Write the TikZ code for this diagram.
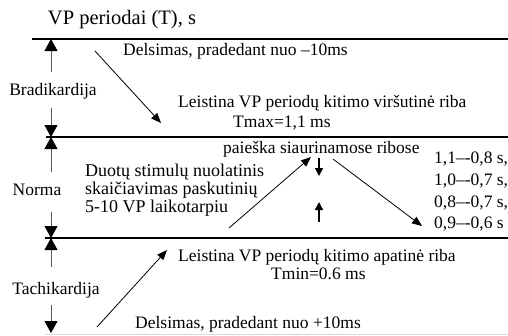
\documentclass[tikz,border=0pt]{standalone}
\usepackage{fontspec}
\setmainfont{Liberation Serif}
\usetikzlibrary{arrows.meta,positioning}

\begin{document}
\begin{tikzpicture}[x = 1pt, y = -1pt,
		every node/.style = {inner sep = 0pt, font = \fontsize{17.5}{20}\selectfont},
		riba/.style = {line width = 1.6pt},
		zona/.style = {draw = black!65, line width = 0.8pt, -{Triangle[length = 12pt, width = 13pt, color = black]}},
		kryptis/.style = {line width = 0.8pt, -{Triangle[length = 10pt, width = 8pt]}},
		mazas/.style = {line width = 1.4pt, -{Triangle[length = 8pt, width = 8pt]}}]
		\useasboundingbox (0,0) rectangle (508,335);
		% ribos
		\coordinate (r1) at (32,39);
		\coordinate (r2) at (46,137);
		\coordinate (r3) at (45,238);
		\draw [riba] (r1) -- (508,39);
		\draw [riba] (r2) -- (508,137);
		\draw [riba] (r3) -- (508,238);
		\draw [black!15, line width = 0.8pt] (45,334) -- (508,334);
		\node [font = \fontsize{20.5}{24}\selectfont](title) at (122,20) {VP periodai (T), s};
		% zonos
		\node [](brad) at (53,91) {Bradikardija};
		\node [](norma) at (37,190) {Norma};
		\node [](tach) at (56,290) {Tachikardija};
		\coordinate (b1) at (51,72);   \coordinate (b1e) at (51,39);
		\coordinate (b2) at (51,108);  \coordinate (b2e) at (51,137);
		\coordinate (n1) at (51,172);  \coordinate (n1e) at (51,137);
		\coordinate (n2) at (51,212);  \coordinate (n2e) at (51,238);
		\coordinate (t1) at (51,267);  \coordinate (t1e) at (51,238);
		\coordinate (t2) at (51,305);  \coordinate (t2e) at (51,333);
		\draw [zona] (b1) -- (b1e);
		\draw [zona] (b2) -- (b2e);
		\draw [zona] (n1) -- (n1e);
		\draw [zona] (n2) -- (n2e);
		\draw [zona] (t1) -- (t1e);
		\draw [zona] (t2) -- (t2e);
		% tekstai
		\node [anchor = west](dels1) at (123,51) {Delsimas, pradedant nuo –10ms};
		\node [anchor = west](virs) at (178,103) {Leistina VP periodų kitimo viršutinė riba};
		\node [anchor = west](tmax) at (233,123) {Tmax=1,1 ms};
		\node [anchor = west](paieska) at (223,149) {paieška siaurinamose ribose};
		\node [anchor = north west, align = left, font = \fontsize{18}{18}\selectfont](duotu) at (85,164) {Duotų stimulų nuolatinis\\skaičiavimas paskutinių\\5-10 VP laikotarpiu};
		\node [anchor = north west, align = left, font = \fontsize{17.5}{21.7}\selectfont](sarasas) at (434,152) {1,1–-0,8 s,\\1,0–-0,7 s,\\0,8–-0,7 s,\\0,9–-0,6 s};
		\node [anchor = west](apat) at (178,257) {Leistina VP periodų kitimo apatinė riba};
		\node [anchor = west](tmin) at (271,274) {Tmin=0.6 ms};
		\node [anchor = west](dels2) at (135,324) {Delsimas, pradedant nuo +10ms};
		% rodykles
		\coordinate (d1) at (95,51);   \coordinate (d1e) at (161,123);
		\coordinate (d2) at (97,327);  \coordinate (d2e) at (167,250);
		\coordinate (d3) at (229,228); \coordinate (d3e) at (311,157);
		\coordinate (d4) at (333,159); \coordinate (d4e) at (422,226);
		\coordinate (m1) at (319,158); \coordinate (m1e) at (319,176);
		\coordinate (m2) at (319,222); \coordinate (m2e) at (319,202);
		\draw [kryptis] (d1) -- (d1e);
		\draw [kryptis] (d2) -- (d2e);
		\draw [kryptis] (d3) -- (d3e);
		\draw [kryptis] (d4) -- (d4e);
		\draw [mazas] (m1) -- (m1e);
		\draw [mazas] (m2) -- (m2e);
\end{tikzpicture}
\end{document}
